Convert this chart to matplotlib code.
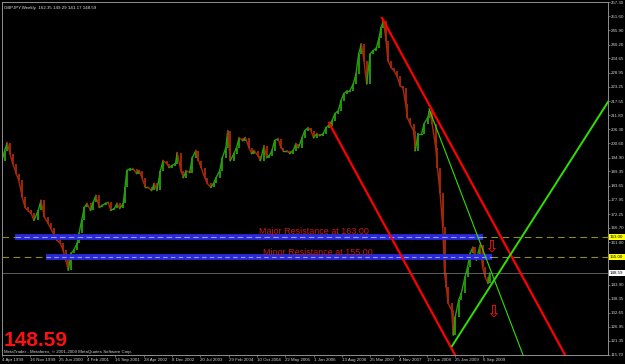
import matplotlib
matplotlib.use("Agg")
import matplotlib.pyplot as plt
import matplotlib.transforms as mtransforms

# GBPJPY weekly (week index from 4 Apr 1999, close)
weeks = [0, 3, 6, 9, 12, 16, 19, 23, 26, 29, 33, 36, 41, 44, 48, 52, 55, 59, 62, 66,
         69, 72, 75, 78, 81, 85, 87, 90, 93, 96, 100, 103, 106, 110, 113, 117, 120, 123,
         127, 130, 133, 137, 139, 141, 145, 148, 152, 155, 158, 162, 165, 169, 172, 175,
         179, 182, 186, 189, 192, 196, 198, 202, 205, 208, 212, 215, 219, 222, 225, 229,
         232, 236, 239, 242, 246, 249, 253, 255, 258, 262, 265, 268, 272, 275, 279, 282,
         285, 289, 292, 296, 299, 302, 305, 308, 312, 315, 318, 322, 325, 329, 332, 335,
         339, 342, 346, 349, 352, 356, 359, 363, 366, 369, 373, 376, 380, 383, 386, 390,
         393, 397, 400, 403, 406, 409, 412, 416, 419, 423, 426, 428, 431, 434, 436, 440,
         443, 446, 450, 453, 456, 458, 461, 465, 467, 470, 474, 477, 481, 483, 486, 490,
         492, 495, 498, 500, 502, 504, 508, 510, 512, 516, 519, 523, 526, 529, 532, 534,
         536, 540, 543, 546, 549, 551]
closes = [193.7, 197.7, 200.9, 196.5, 192.5, 188.5, 185.7, 178.9, 174.9, 173.7, 172.5,
          169.7, 173.7, 177.7, 170.9, 168.5, 166.5, 163.7, 161.7, 160.5, 157.7, 153.7,
          149.7, 156.5, 157.7, 160.5, 164.5, 169.7, 174.9, 176.5, 173.7, 176.9, 179.7,
          174.9, 175.7, 176.5, 176.9, 173.7, 174.5, 176.5, 174.5, 176.5, 182.9, 189.7,
          190.5, 190.5, 188.5, 189.7, 186.9, 182.9, 182.9, 181.7, 184.5, 181.7, 189.7,
          193.7, 192.5, 190.9, 191.7, 192.5, 196.9, 189.7, 186.9, 189.7, 188.9, 194.9,
          197.7, 193.7, 190.9, 186.9, 184.5, 182.9, 184.5, 186.9, 189.7, 194.9, 198.9,
          205.7, 193.7, 196.5, 198.9, 202.9, 201.7, 202.9, 198.9, 196.5, 197.7, 195.7,
          193.7, 199.7, 194.9, 195.7, 197.7, 201.7, 202.5, 198.9, 197.7, 197.7, 196.5,
          197.7, 200.5, 198.9, 202.9, 205.7, 206.9, 205.7, 202.9, 204.5, 203.7, 204.5,
          206.9, 207.7, 209.7, 212.5, 213.7, 217.7, 220.5, 221.7, 221.7, 224.5, 228.5,
          236.5, 240.5, 233.7, 224.5, 236.5, 237.7, 238.9, 242.9, 246.9, 249.7, 241.7,
          233.7, 230.9, 229.7, 227.7, 223.7, 222.9, 216.5, 210.9, 208.5, 205.7, 197.7,
          204.5, 204.5, 208.5, 210.9, 213.7, 208.5, 198.9, 190.9, 180.5, 166.9, 148.5,
          142.9, 136.5, 133.7, 123.7, 130.9, 137.7, 140.5, 146.9, 150.9, 156.5, 158.9,
          154.9, 153.7, 159.7, 150.9, 146.9, 144.5, 148.59]

date_ticks = list(range(0, 545, 32))
date_labels = ["4 Apr 1999", "16 Nov 1999", "25 Jun 2000", "4 Feb 2001", "16 Sep 2001",
               "28 Apr 2002", "8 Dec 2002", "20 Jul 2003", "29 Feb 2004", "10 Oct 2004",
               "22 May 2005", "1 Jan 2006", "13 Aug 2006", "25 Mar 2007", "4 Nov 2007",
               "15 Jun 2008", "25 Jan 2009", "6 Sep 2009"]
price_ticks = [115.70, 121.35, 126.95, 132.65, 138.35, 143.90, 161.00, 166.70, 172.25,
               177.95, 183.65, 189.35, 194.90, 200.60, 206.30, 211.80, 217.55, 223.25,
               228.95, 234.65, 240.20, 245.90, 251.60, 257.30]

major_level = 163.00
minor_level = 155.00
last_price = 148.59

# trend lines (week, price) anchor points
red_upper = ([429.4, 636.2], [250.9, 115.7])
red_lower = ([369.5, 511.9], [208.8, 115.7])
green_thin = ([482.5, 588.7], [214.4, 115.7])
green_thick = ([508.5, 684.7], [119.3, 217.2])
major_band = [14.7, 543.5]
minor_band = [49.7, 553.7]

fig = plt.figure(figsize=(6.25, 3.64), dpi=100, facecolor="black")
ax = fig.add_axes([2 / 625, 9 / 364, 606 / 625, 353 / 364], facecolor="black")
ax.set_xlim(0, 684.7)
ax.set_ylim(115.7, 257.3)

# price bars
for i in range(1, len(weeks)):
    c = "#26a00c" if closes[i] >= closes[i - 1] else "#a82a0a"
    ax.vlines(weeks[i], closes[i - 1], closes[i], color=c, lw=1.3)
    ax.plot(weeks[i - 1:i + 1], closes[i - 1:i + 1], color=c, lw=1.0)

# horizontal levels
ax.axhline(major_level, color="#8f8f18", lw=0.8, dashes=(6, 4))
ax.axhline(minor_level, color="#8f8f18", lw=0.8, dashes=(6, 4))
ax.axhline(last_price, color="#808080", lw=0.5)

ax.plot(major_band, [major_level] * 2, color="#2a2ad8", lw=4.2, solid_capstyle="butt")
ax.plot(major_band, [major_level] * 2, color="#9a9aff", lw=0.8, dashes=(5, 3))
ax.plot(minor_band, [minor_level] * 2, color="#2a2ad8", lw=4.2, solid_capstyle="butt")
ax.plot(minor_band, [minor_level] * 2, color="#9a9aff", lw=0.8, dashes=(4, 3))

ax.text(353, 165.4, "Major Resistance at 163.00", color="#c81a1a", fontsize=6.5,
        family="Liberation Sans", ha="center", va="center")
ax.text(357, 157.0, "Minor Resistance at 155.00", color="#c81a1a", fontsize=6.5,
        family="Liberation Sans", ha="center", va="center")

# trend lines
ax.plot(*red_upper, color="#ff0000", lw=1.6)
ax.plot(*red_lower, color="#ff0000", lw=1.6)
ax.plot(*green_thin, color="#30e000", lw=0.8)
ax.plot(*green_thick, color="#30e000", lw=1.4)

ax.text(552.5, 159.0, "\u21e9", color="#ff1010", fontsize=12, ha="center", va="center")
ax.text(555, 133.0, "\u21e9", color="#ff1010", fontsize=12, ha="center", va="center")

# axes styling
for s in ax.spines.values():
    s.set_color("#909090")
    s.set_linewidth(0.7)
ax.yaxis.tick_right()
ax.set_yticks(price_ticks)
ax.set_yticklabels(["%.2f" % v for v in price_ticks])
ax.set_xticks(date_ticks)
ax.set_xticklabels(date_labels, ha="left")
ax.tick_params(colors="#909090", labelcolor="#d0d0d0", length=1.5, width=0.5,
               labelsize=3.2, pad=0.6)
for lab in ax.get_xticklabels() + ax.get_yticklabels():
    lab.set_family("Liberation Sans")

tr = mtransforms.blended_transform_factory(ax.transAxes, ax.transData)
for lvl, fc in [(major_level, "#ffff00"), (minor_level, "#ffff00"), (last_price, "#ffffff")]:
    ax.text(1.0035, lvl, "%.2f" % lvl, transform=tr, fontsize=3.2, color="black",
            family="Liberation Sans", va="center", ha="left",
            bbox=dict(boxstyle="square,pad=0.3", fc=fc, ec="none"))

ax.text(0.003, 0.99, "GBPJPY,Weekly  162.35 149.29 141.17 148.59", transform=ax.transAxes,
        color="#e0e0e0", fontsize=3.2, family="Liberation Sans", va="top")
ax.text(0.002, 0.026, "148.59", transform=ax.transAxes, color="#ff1010", fontsize=15,
        fontweight="bold", family="Liberation Sans", va="baseline")
ax.text(0.003, 0.002, "MetaTrader - Metaforex, \u00a9 2001-2009 MetaQuotes Software Corp.",
        transform=ax.transAxes, color="#d0d0d0", fontsize=3.2, family="Liberation Sans",
        va="bottom")

fig.savefig("out.png", dpi=100, facecolor="black")
